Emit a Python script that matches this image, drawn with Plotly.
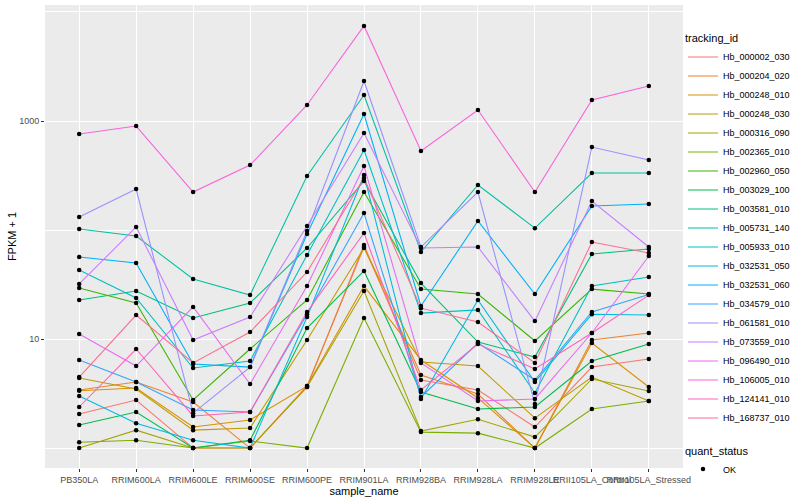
import plotly.graph_objects as go

samples = ["PB350LA", "RRIM600LA", "RRIM600LE", "RRIM600SE", "RRIM600PE", "RRIM901LA",
           "RRIM928BA", "RRIM928LA", "RRIM928LE", "RRII105LA_Control", "RRII105LA_Stressed"]

tracking_ids = ["Hb_000002_030", "Hb_000204_020", "Hb_000248_010", "Hb_000248_030", "Hb_000316_090",
                "Hb_002365_010", "Hb_002960_050", "Hb_003029_100", "Hb_003581_010", "Hb_005731_140",
                "Hb_005933_010", "Hb_032531_050", "Hb_032531_060", "Hb_034579_010", "Hb_061581_010",
                "Hb_073559_010", "Hb_096490_010", "Hb_106005_010", "Hb_124141_010", "Hb_168737_010"]

colors = ["#F8766D", "#EA8331", "#D89000", "#C09B00", "#A3A500", "#7CAE00", "#39B600", "#00BB4E",
          "#00BF7D", "#00C1A3", "#00BFC4", "#00BAE0", "#00B0F6", "#35A2FF", "#9590FF", "#C77CFF",
          "#E76BF3", "#FA62DB", "#FF62BC", "#FF6C91"]

# FPKM + 1 per sample (order of `samples`)
hb_000002_030 = [2.05, 2.76, 1.0, 1.0, 3.63, 72.8, 4.21, 3.41, 1.56, 5.53, 6.56]
hb_000204_020 = [3.41, 4.03, 2.64, 1.0, 3.71, 69.8, 4.67, 3.13, 1.0, 9.79, 11.35]
hb_000248_010 = [3.35, 3.55, 1.56, 1.81, 3.70, 30.6, 6.42, 2.88, 1.0, 9.19, 3.63]
hb_000248_030 = [4.39, 3.48, 1.46, 1.53, 9.79, 68.4, 6.15, 5.65, 1.88, 4.48, 2.70]
hb_000316_090 = [1.0, 1.46, 1.0, 1.0, 3.63, 27.6, 1.43, 1.84, 1.26, 4.30, 3.33]
hb_002365_010 = [1.13, 1.18, 1.0, 1.16, 1.0, 15.6, 1.40, 1.37, 1.0, 2.28, 2.70]
hb_002960_050 = [29.4, 21.4, 2.76, 8.10, 22.8, 223, 28.7, 25.9, 9.59, 28.7, 25.9]
hb_003029_100 = [1.63, 2.14, 1.0, 1.18, 12.6, 42.1, 3.26, 2.28, 2.38, 6.29, 9.00]
hb_003581_010 = [22.8, 27.6, 15.6, 21.4, 68.4, 281.6, 32.6, 9.39, 6.84, 60.3, 66.9]
hb_005731_140 = [102, 88.1, 35.5, 25.3, 313, 1733, 62.8, 259, 104, 333, 333]
hb_005933_010 = [43.0, 23.8, 5.42, 6.29, 59.0, 542, 17.3, 18.5, 3.20, 30.6, 37.1]
hb_032531_050 = [3.00, 1.69, 1.18, 1.0, 15.9, 320, 2.82, 22.8, 4.03, 16.9, 16.6]
hb_032531_060 = [56.5, 49.8, 5.90, 5.53, 91.9, 1159, 20.1, 121, 25.9, 166, 173]
hb_034579_010 = [6.42, 4.03, 2.23, 2.14, 16.9, 143, 2.94, 9.19, 4.21, 17.7, 25.6]
hb_061581_010 = [131.5, 237.7, 2.09, 5.53, 97.9, 2328, 69.8, 223, 2.53, 577, 438.5]
hb_073559_010 = [32.0, 106.6, 9.79, 15.9, 109, 776, 68.4, 69.8, 14.6, 184.5, 69.8]
hb_096490_010 = [11.1, 5.65, 19.7, 3.87, 30.6, 386, 6.03, 2.70, 2.82, 11.35, 57.7]
hb_106005_010 = [760, 899, 223, 394, 1403, 7447, 531, 1262, 223, 1560, 2094]
hb_124141_010 = [2.38, 8.10, 1.97, 2.14, 17.7, 93.8, 3.41, 9.00, 5.31, 11.35, 25.3]
hb_168737_010 = [4.48, 16.6, 6.03, 11.6, 41.2, 300, 19.2, 14.3, 6.03, 77.6, 61.5]

series = [hb_000002_030, hb_000204_020, hb_000248_010, hb_000248_030, hb_000316_090,
          hb_002365_010, hb_002960_050, hb_003029_100, hb_003581_010, hb_005731_140,
          hb_005933_010, hb_032531_050, hb_032531_060, hb_034579_010, hb_061581_010,
          hb_073559_010, hb_096490_010, hb_106005_010, hb_124141_010, hb_168737_010]

quant_status = ["OK"]

FONT = "Liberation Sans, Arial, sans-serif"

fig = go.Figure()
for name, col, vals in zip(tracking_ids, colors, series):
    fig.add_trace(go.Scatter(
        x=samples, y=vals, mode="lines", name=name,
        line=dict(color=col, width=1.07),
        legend="legend", showlegend=True, hoverinfo="skip"))

pts_x = [s for vals in series for s in samples]
pts_y = [v for vals in series for v in vals]
fig.add_trace(go.Scatter(
    x=pts_x, y=pts_y, mode="markers", name=quant_status[0],
    marker=dict(color="black", size=4.5, line=dict(width=0)),
    legend="legend2", showlegend=True))

fig.update_layout(
    width=800, height=500,
    margin=dict(l=45, r=117, t=5, b=32, autoexpand=False),
    paper_bgcolor="white", plot_bgcolor="#EBEBEB",
    font=dict(family=FONT, size=9, color="#4D4D4D"),
    showlegend=True,
    legend=dict(
        title=dict(text="tracking_id", font=dict(size=11, color="black")),
        x=1.0, xanchor="left", y=0.95, yanchor="top",
        font=dict(size=9, color="black"), bgcolor="rgba(255,255,255,0)",
        tracegroupgap=0, itemwidth=30),
    legend2=dict(
        title=dict(text="quant_status", font=dict(size=11, color="black")),
        x=1.0, xanchor="left", y=0.06, yanchor="top",
        font=dict(size=9, color="black"), bgcolor="rgba(255,255,255,0)"),
    xaxis=dict(
        type="category", categoryorder="array", categoryarray=samples,
        range=[-0.6, len(samples) - 0.4],
        showgrid=True, gridcolor="white", gridwidth=1.07,
        ticks="outside", ticklen=3, tickcolor="#333333", tickwidth=1,
        tickangle=0, tickfont=dict(size=9, color="#4D4D4D"),
        title=dict(text="sample_name", font=dict(size=11, color="black"), standoff=2),
        zeroline=False, showline=False),
    yaxis=dict(
        type="log", range=[-0.183, 4.064],
        tickmode="array", tickvals=[10, 1000], ticktext=["10", "1000"],
        showgrid=True, gridcolor="white", gridwidth=1.07,
        minor=dict(tickmode="array", tickvals=[1, 100, 10000], showgrid=True,
                   gridcolor="white", gridwidth=0.55, ticklen=0),
        ticks="outside", ticklen=3, tickcolor="#333333", tickwidth=1,
        tickfont=dict(size=9, color="#4D4D4D"),
        title=dict(text="FPKM + 1", font=dict(size=11, color="black"), standoff=0),
        zeroline=False, showline=False),
)

fig.write_html("out.html", config={"displayModeBar": False},
               post_script="document.body.style.margin='0';")
